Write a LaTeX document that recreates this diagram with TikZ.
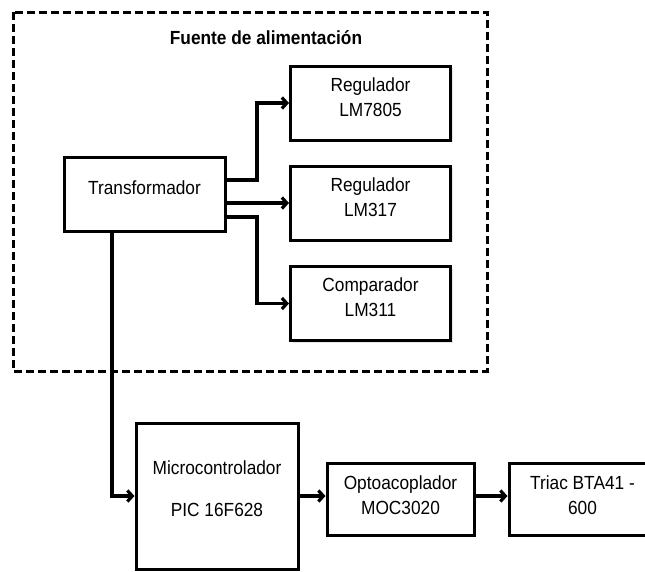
\documentclass[tikz,border=0pt]{standalone}
\usepackage{fontspec}
\setmainfont[FakeStretch=0.91]{Liberation Sans}
\usetikzlibrary{arrows.meta,shadows}
\begin{document}
\begin{tikzpicture}[x=1pt,y=-1pt,
  blockbox/.style={draw=black,line width=3pt,fill=white,inner sep=0pt,
    drop shadow={opacity=0.2,shadow xshift=2pt,shadow yshift=-2pt}},
  blocktext/.style={font=\fontsize{19}{25}\selectfont,align=center,yshift=6pt},
  conn/.style={line width=3.2pt,-{Straight Barb[length=5pt,width=11pt,line width=3.2pt]}}
]
\useasboundingbox (0,0) rectangle (645,571);
\begin{scope}
\clip (0,0) rectangle (645,571);
\draw[line width=3pt,dash pattern=on 8pt off 4pt] (13,12) rectangle (487,371);
\node[font=\bfseries\fontsize{19}{22}\selectfont] (title) at (266,38) {Fuente de alimentación};

\node[blockbox,minimum width=161pt,minimum height=74pt,
  label={[blocktext]center:Transformador}] (trans) at (144.5,194) {};
\node[blockbox,minimum width=160pt,minimum height=74pt,
  label={[blocktext]center:Regulador\\LM7805}] (r1) at (370.5,103) {};
\node[blockbox,minimum width=160pt,minimum height=74pt,
  label={[blocktext]center:Regulador\\LM317}] (r2) at (370.5,203) {};
\node[blockbox,minimum width=160pt,minimum height=74pt,
  label={[blocktext]center:Comparador\\LM311}] (comp) at (370.5,303.5) {};

\node[blockbox,minimum width=162pt,minimum height=146pt,
  label={[blocktext,font=\fontsize{19}{42}\selectfont,yshift=1pt]center:Microcontrolador\\PIC 16F628}] (micro) at (217,496) {};
\node[blockbox,minimum width=147pt,minimum height=72pt,
  label={[blocktext,yshift=-2pt]center:Optoacoplador\\MOC3020}] (opto) at (400.5,499) {};
\node[blockbox,minimum width=147pt,minimum height=72pt,
  label={[blocktext,yshift=-2pt]center:Triac BTA41 -\\600}] (triac) at (582.5,499) {};

\coordinate (vx) at (257,0);
\coordinate (dx) at (112,0);
\draw[conn] ([yshift=14pt]trans.east) -| (vx |- r1.west) -- (r1.west);
\draw[conn] (trans.east |- r2.west) -- (r2.west);
\draw[conn] ([yshift=-23pt]trans.east) -| (vx |- comp.west) -- (comp.west);
\draw[conn] (dx |- trans.south) |- (micro.west);
\draw[conn] (micro.east |- 0,496) -- (opto.west |- 0,496);
\draw[conn] (opto.east |- 0,496) -- (triac.west |- 0,496);
\end{scope}
\end{tikzpicture}
\end{document}
